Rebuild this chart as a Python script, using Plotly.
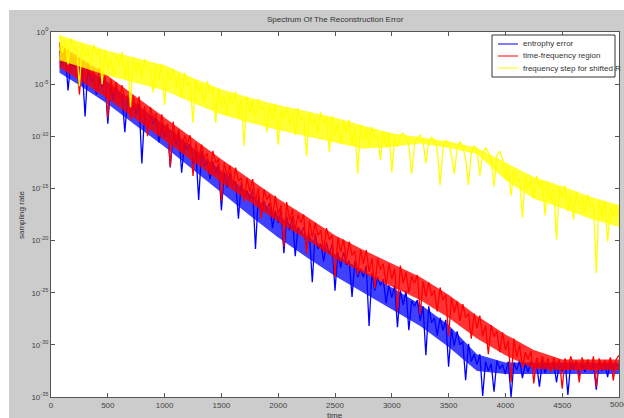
import plotly.graph_objects as go

# ---------------- data (log10 of the values) ----------------
time_start = 75
time_step = 25

blue_log = [
    -1.8, -3.2, -1.9, -5.6, -2.8, -3.4, -2.8, -4.7, -3.4, -8.1,
    -3.4, -4.8, -4.3, -6.0, -4.3, -5.3, -4.3, -8.8, -5.1, -6.6,
    -5.2, -6.4, -6.0, -9.6, -6.2, -7.8, -7.0, -7.9, -6.8, -12.6,
    -7.5, -9.3, -8.0, -8.8, -8.2, -10.6, -8.9, -10.1, -8.9, -13.0,
    -9.5, -10.9, -9.7, -13.5, -10.7, -11.3, -10.7, -12.7, -11.4, -16.1,
    -11.4, -12.9, -12.4, -14.1, -12.4, -13.6, -12.6, -17.1, -13.4, -14.9,
    -13.5, -14.7, -14.3, -17.9, -14.4, -16.0, -15.2, -16.1, -15.0, -20.8,
    -15.7, -17.5, -16.2, -17.0, -16.4, -18.8, -17.1, -18.3, -17.1, -21.2,
    -17.7, -19.0, -17.7, -21.5, -18.7, -19.3, -18.7, -20.7, -19.3, -24.0,
    -19.3, -20.8, -20.3, -22.0, -20.2, -21.3, -20.3, -24.8, -21.1, -22.6,
    -21.1, -22.3, -21.9, -25.4, -21.9, -23.5, -22.7, -23.5, -22.4, -28.2,
    -23.1, -24.8, -23.5, -24.3, -23.7, -26.0, -24.3, -25.5, -24.3, -28.3,
    -24.8, -26.2, -24.8, -28.6, -25.8, -26.3, -25.7, -27.7, -26.3, -31.0,
    -26.3, -27.9, -27.4, -29.1, -27.4, -28.6, -27.6, -32.1, -28.5, -30.1,
    -28.7, -30.0, -29.7, -33.4, -29.9, -31.6, -30.9, -31.9, -30.9, -34.9,
    -31.6, -32.5, -31.8, -34.5, -31.5, -32.3, -31.9, -32.8, -31.6, -35.0,
    -31.7, -32.4, -31.5, -33.2, -31.8, -32.6, -31.6, -32.2, -31.9, -34.0,
    -31.5, -32.7, -31.7, -32.3, -31.6, -33.6, -31.8, -32.5, -31.5, -34.8,
    -31.7, -32.4, -31.6, -33.0, -31.9, -32.6, -31.5, -32.2, -31.8, -34.3,
    -31.6, -32.5, -31.7, -33.1, -31.5, -32.4, -31.9, -32.0,
]

red_log = [
    -1.0, -2.8, -1.6, -3.7, -2.2, -3.0, -2.2, -6.0, -2.8, -4.4,
    -3.0, -4.2, -3.7, -5.8, -3.5, -4.6, -4.2, -8.2, -4.5, -5.9,
    -4.8, -6.8, -5.1, -6.4, -6.1, -8.4, -6.1, -7.4, -6.2, -8.3,
    -7.1, -10.0, -7.2, -8.3, -7.8, -9.9, -7.9, -9.7, -8.8, -12.9,
    -8.6, -10.4, -9.3, -11.4, -9.9, -10.7, -9.9, -13.8, -10.6, -12.2,
    -10.8, -12.1, -11.6, -13.7, -11.4, -12.6, -12.2, -16.2, -12.5, -13.9,
    -12.8, -14.8, -13.0, -14.3, -14.0, -16.3, -14.0, -15.3, -14.1, -16.2,
    -15.0, -17.9, -15.1, -16.1, -15.6, -17.7, -15.7, -17.5, -16.6, -20.6,
    -16.3, -18.1, -17.0, -19.0, -17.5, -18.3, -17.5, -21.3, -18.1, -19.7,
    -18.3, -19.5, -19.0, -21.1, -18.8, -19.9, -19.5, -23.5, -19.7, -21.1,
    -19.9, -21.9, -20.1, -21.4, -21.0, -23.3, -20.9, -22.2, -20.9, -23.0,
    -21.7, -24.6, -21.7, -22.8, -22.2, -24.3, -22.2, -23.7, -22.7, -26.8,
    -22.4, -24.1, -23.0, -25.0, -23.4, -24.1, -23.3, -27.1, -23.9, -25.4,
    -24.0, -25.3, -24.8, -26.8, -24.5, -25.7, -25.2, -29.2, -25.5, -26.9,
    -25.8, -27.7, -26.1, -27.4, -27.0, -29.4, -27.0, -28.4, -27.2, -29.2,
    -28.1, -30.9, -28.1, -29.2, -28.7, -30.7, -28.8, -30.5, -29.6, -33.6,
    -29.4, -31.2, -30.0, -32.2, -30.7, -31.4, -30.6, -33.7, -31.2, -32.2,
    -31.1, -32.0, -31.3, -32.6, -31.2, -31.9, -31.4, -34.2, -31.3, -32.3,
    -31.1, -32.0, -31.5, -33.6, -31.2, -32.1, -31.4, -32.5, -31.1, -34.0,
    -31.3, -32.2, -31.5, -32.0, -31.2, -33.4, -31.4, -31.0,
]

yellow_log = [
    -0.3, -2.0, -0.8, -3.1, -0.6, -1.7, -1.4, -5.2, -1.1, -2.4,
    -1.6, -3.3, -1.2, -2.2, -1.7, -5.0, -1.7, -3.5, -2.4, -4.2,
    -2.2, -3.2, -1.9, -4.4, -2.7, -7.2, -2.4, -3.9, -2.9, -4.4,
    -2.6, -3.7, -3.5, -5.8, -3.1, -4.6, -3.1, -7.0, -3.7, -4.6,
    -3.5, -5.3, -4.1, -6.4, -3.9, -5.1, -4.8, -8.7, -4.6, -5.9,
    -5.1, -6.8, -4.7, -5.8, -5.4, -8.7, -5.4, -7.2, -6.1, -8.0,
    -5.9, -6.9, -5.7, -8.2, -6.4, -10.9, -6.2, -7.7, -6.6, -8.2,
    -6.4, -7.5, -7.2, -9.6, -6.9, -8.4, -6.9, -10.8, -7.5, -8.3,
    -7.2, -8.8, -7.6, -9.9, -7.3, -8.5, -8.1, -11.9, -7.8, -9.0,
    -8.2, -9.8, -7.7, -8.8, -8.2, -11.5, -8.1, -9.9, -8.8, -10.7,
    -8.6, -9.6, -8.4, -10.9, -9.1, -13.6, -8.9, -10.4, -9.3, -10.9,
    -9.1, -10.2, -9.9, -12.3, -9.6, -11.1, -9.6, -13.5, -10.1, -11.0,
    -9.9, -9.7, -10.1, -10.9, -13.6, -10.8, -10.1, -9.9, -10.5, -12.6,
    -10.6, -10.1, -10.4, -11.2, -14.7, -11.2, -10.4, -10.6, -11.8, -13.6,
    -11.2, -10.5, -11.0, -12.2, -14.7, -11.6, -10.9, -11.4, -13.8, -11.7,
    -11.1, -11.5, -12.4, -14.8, -11.9, -11.4, -12.2, -14.0, -13.1, -15.7,
    -13.2, -14.4, -14.1, -17.8, -13.7, -15.0, -14.2, -15.9, -13.8, -14.9,
    -14.3, -17.6, -14.3, -16.1, -15.0, -19.9, -14.9, -15.9, -14.7, -17.2,
    -15.5, -18.0, -15.3, -16.8, -15.8, -17.4, -15.6, -16.7, -16.5, -23.1,
    -16.2, -17.7, -16.2, -20.1, -16.8, -17.7, -16.6, -17.9,
]

# dense core band of each noisy signal (upper / lower edge, log10), read every 250
band_times = [75, 250, 500, 750, 1000, 1250, 1500, 1750, 2000, 2250, 2500,
              2750, 3000, 3250, 3500, 3750, 4000, 4250, 4500, 4750, 5000]
blue_band_hi = [-1.8, -3.0, -4.8, -6.9, -8.9, -11.1, -13.3, -15.5, -17.6, -19.5, -21.3,
                -22.9, -24.5, -26.1, -28.1, -30.9, -31.7, -31.7, -31.7, -31.7, -31.7]
blue_band_lo = [-3.9, -5.1, -6.9, -9.0, -11.0, -13.2, -15.4, -17.6, -19.7, -21.6, -23.4,
                -25.0, -26.6, -28.2, -30.2, -32.5, -32.8, -32.8, -32.8, -32.8, -32.8]
red_band_hi = [-1.2, -2.4, -4.2, -6.2, -8.2, -10.2, -12.2, -14.1, -16.0, -17.7, -19.5,
               -20.9, -22.2, -23.5, -25.2, -27.2, -29.0, -30.5, -31.4, -31.4, -31.4]
red_band_lo = [-3.4, -4.6, -6.4, -8.4, -10.4, -12.4, -14.4, -16.3, -18.2, -19.9, -21.7,
               -23.1, -24.4, -25.7, -27.4, -29.4, -31.0, -32.3, -32.4, -32.4, -32.4]
yellow_band_hi = [-0.3, -0.9, -1.8, -2.5, -3.2, -4.4, -5.5, -6.3, -7.0, -7.6, -8.2,
                  -9.0, -9.7, -10.1, -10.5, -11.1, -12.5, -13.9, -14.8, -15.8, -16.6]
yellow_band_lo = [-2.7, -3.3, -4.2, -4.9, -5.6, -6.8, -7.9, -8.7, -9.4, -10.0, -10.6,
                  -11.2, -11.0, -10.7, -11.1, -11.7, -14.2, -16.0, -16.9, -17.9, -18.7]

series_names = ["entrophy error", "time-frequency region", "frequency step for shifted R"]
series_colors = ["#0000ff", "#ff0000", "#ffff00"]
band_fills = ["rgba(0,0,255,0.75)", "rgba(255,0,0,0.8)", "rgba(255,255,0,0.8)"]

x_tick_vals = [0, 500, 1000, 1500, 2000, 2500, 3000, 3500, 4000, 4500]
y_tick_exps = [0, -5, -10, -15, -20, -25, -30, -35]

times = [time_start + time_step * i for i in range(len(blue_log))]

# ---------------- layout geometry (pixels) ----------------
FIG_W, FIG_H = 624, 418
L, R, T, B = 51, 619, 32, 397
W, H = R - L, B - T


def px(x):
    return (x - L) / W


def py(y):
    return (B - y) / H


GRAY = "#cccccc"
AXIS_C = "#555555"
TXT_C = "#444444"
FONT = "Liberation Sans"

fig = go.Figure()
signals = [blue_log, red_log, yellow_log]
bands = [(blue_band_hi, blue_band_lo), (red_band_hi, red_band_lo), (yellow_band_hi, yellow_band_lo)]
for name, col, fcol, vals, (hi, lo) in zip(series_names, series_colors, band_fills, signals, bands):
    fig.add_trace(go.Scatter(
        x=band_times + band_times[::-1],
        y=[10 ** v for v in hi] + [10 ** v for v in lo[::-1]],
        fill="toself", fillcolor=fcol, mode="lines",
        line=dict(width=0), hoverinfo="skip", showlegend=False,
    ))
    fig.add_trace(go.Scatter(
        x=times, y=[10 ** v for v in vals], mode="lines", name=name,
        line=dict(color=col, width=1.3), showlegend=False,
    ))

shapes = [
    # gray figure background (white strip at top and left)
    dict(type="rect", xref="paper", yref="paper", x0=px(9), x1=px(FIG_W + 5),
         y0=py(10), y1=py(FIG_H + 5), fillcolor=GRAY, line=dict(width=0), layer="below"),
    dict(type="rect", xref="paper", yref="paper", x0=0, x1=1, y0=0, y1=1,
         fillcolor="white", line=dict(width=0), layer="below"),
]

# compact legend (MATLAB style)
LEG_X0, LEG_X1, LEG_Y0, LEG_Y1 = 492, 615, 35, 77
shapes.append(dict(type="rect", xref="paper", yref="paper", x0=px(LEG_X0), x1=px(LEG_X1),
                   y0=py(LEG_Y1), y1=py(LEG_Y0), fillcolor="white",
                   line=dict(color="#333333", width=1), layer="above"))
annotations = []
entry_y = [44, 56, 68]
for name, col, yy in zip(series_names, series_colors, entry_y):
    shapes.append(dict(type="line", xref="paper", yref="paper", x0=px(498), x1=px(518),
                       y0=py(yy), y1=py(yy), line=dict(color=col, width=1), layer="above"))
    annotations.append(dict(text=name, xref="paper", yref="paper", x=px(521), y=py(yy),
                            xanchor="left", yanchor="middle", showarrow=False,
                            font=dict(family=FONT, size=8, color="#333333")))

annotations += [
    dict(text="Spectrum Of The Reconstruction Error", xref="paper", yref="paper",
         x=px(335), y=py(20), xanchor="center", yanchor="middle", showarrow=False,
         font=dict(family=FONT, size=8, color="#333333")),
    dict(text="time", xref="paper", yref="paper", x=px(335), y=py(415),
         xanchor="center", yanchor="middle", showarrow=False,
         font=dict(family=FONT, size=8, color="#333333")),
    dict(text="sampling rate", xref="paper", yref="paper", x=px(21), y=py(215),
         xanchor="center", yanchor="middle", showarrow=False, textangle=-90,
         font=dict(family=FONT, size=8, color="#333333")),
    # last x tick label sits on the right edge of the picture
    dict(text="5000", xref="x", yref="paper", x=5000, y=py(405),
         xanchor="center", yanchor="middle", showarrow=False,
         font=dict(family=FONT, size=8, color=TXT_C)),
]

fig.update_layout(
    width=FIG_W, height=FIG_H,
    margin=dict(l=L, r=FIG_W - R, t=T, b=FIG_H - B, pad=0),
    paper_bgcolor="white", plot_bgcolor="white",
    showlegend=False,
    shapes=shapes, annotations=annotations,
    font=dict(family=FONT, size=8, color=TXT_C),
)
fig.update_xaxes(
    range=[0, 5000], tickvals=x_tick_vals, ticks="inside", ticklen=4,
    tickcolor=AXIS_C, showline=True, linecolor=AXIS_C, linewidth=1, mirror="ticks",
    showgrid=False, zeroline=False, tickfont=dict(family=FONT, size=8, color=TXT_C),
)
fig.update_yaxes(
    type="log", range=[-35, 0],
    tickvals=[10 ** e for e in y_tick_exps],
    ticktext=["10<sup>%d</sup>" % e for e in y_tick_exps],
    ticks="inside", ticklen=4, tickcolor=AXIS_C, showline=True, linecolor=AXIS_C,
    linewidth=1, mirror="ticks", showgrid=False, zeroline=False,
    tickfont=dict(family=FONT, size=8, color=TXT_C),
)

fig.write_html(
    "out.html",
    config={"displayModeBar": False},
    post_script="document.body.style.margin='0px';document.body.style.padding='0px';",
)
